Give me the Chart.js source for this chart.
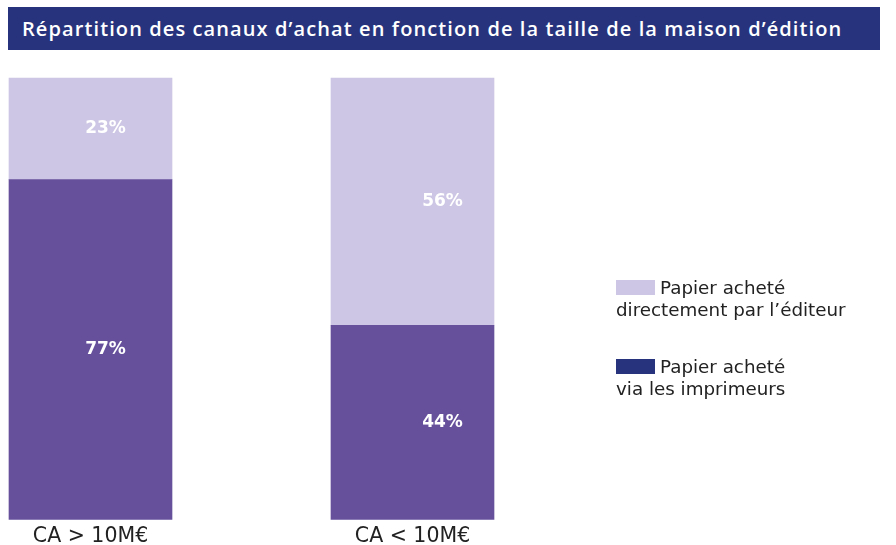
<!DOCTYPE html>
<html><head><meta charset="utf-8">
<script src="https://cdn.jsdelivr.net/npm/chart.js@4/dist/chart.umd.min.js"></script>
<style>
html,body{margin:0;padding:0;background:#fff;}
#wrap{position:relative;width:896px;height:545px;}
#title{position:absolute;left:8px;top:7px;width:872px;height:43px;background:#27347d;color:#fff;font-family:"Open Sans",sans-serif;font-weight:600;font-size:20px;letter-spacing:1.1px;line-height:43px;padding-left:14px;box-sizing:border-box;white-space:nowrap;}
.leg{position:absolute;left:616px;font-family:"DejaVu Sans",sans-serif;font-size:18.3px;color:#222;line-height:21.5px;}
.leg .box{display:inline-block;width:39px;height:15px;vertical-align:-1px;margin-right:5px;}
</style></head>
<body><div id="wrap">
<canvas id="c" width="896" height="545"></canvas>
<div id="title">Répartition des canaux d’achat en fonction de la taille de la maison d’édition</div>
<div class="leg" style="top:277px"><span class="box" style="background:#cdc6e4"></span>Papier acheté<br>directement par l’éditeur</div>
<div class="leg" style="top:356px"><span class="box" style="background:#27347d"></span>Papier acheté<br>via les imprimeurs</div>
</div>
<script>
const categories = ['CA > 10M€', 'CA < 10M€'];
const seriesNames = ['Papier acheté via les imprimeurs', 'Papier acheté directement par l’éditeur'];
const viaImprimeurs = [77, 44];
const directEditeur = [23, 56];

const labelPlugin = {
  id: 'segLabels',
  afterDatasetsDraw(chart) {
    const ctx = chart.ctx;
    ctx.save();
    ctx.fillStyle = '#ffffff';
    ctx.font = 'bold 17px "DejaVu Sans", sans-serif';
    ctx.textAlign = 'center';
    ctx.textBaseline = 'middle';
    chart.data.datasets.forEach((ds, di) => {
      const meta = chart.getDatasetMeta(di);
      meta.data.forEach((bar, i) => {
        const y = (bar.y + bar.base) / 2;
        const dx = i === 0 ? 15 : 30;
        ctx.fillText(ds.data[i] + '%', bar.x + dx, y);
      });
    });
    ctx.restore();
  }
};

new Chart(document.getElementById('c'), {
  type: 'bar',
  data: {
    labels: categories,
    datasets: [
      { label: seriesNames[0], data: viaImprimeurs, backgroundColor: '#66509c', barThickness: 163, clip: false },
      { label: seriesNames[1], data: directEditeur, backgroundColor: '#cdc6e4', barThickness: 163, clip: false }
    ]
  },
  options: {
    responsive: false,
    animation: false,
    layout: { padding: { left: 90.5, right: 483.5, top: 78, bottom: -8 } },
    plugins: { legend: { display: false }, tooltip: { enabled: false } },
    scales: {
      x: {
        stacked: true, offset: false,
        grid: { display: false, drawTicks: false }, border: { display: false },
        ticks: { color: '#222', font: { family: '"DejaVu Sans", sans-serif', size: 20.5, lineHeight: 1.0 }, padding: 6.5, maxRotation: 0, autoSkip: false }
      },
      y: { stacked: true, display: false, min: 0, max: 100 }
    }
  },
  plugins: [labelPlugin]
});
</script>
</body></html>
